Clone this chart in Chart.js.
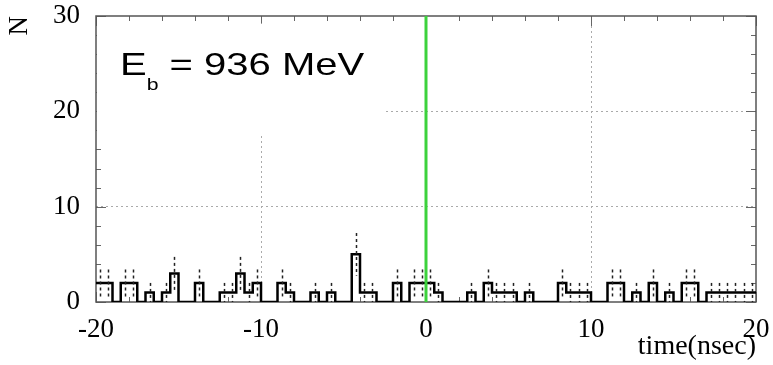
<!DOCTYPE html>
<html>
<head>
<meta charset="utf-8">
<script src="https://cdn.jsdelivr.net/npm/chart.js@4"></script>
<style>
    body { margin: 0; background: #fff; }
    canvas { display: block; }
</style>
</head>
<body>
<canvas id="timeChart" width="773" height="365"></canvas>
<script>
// ヒストグラムのデータ (0.5 nsec 幅, -20 〜 20 nsec)
const binLow = -20;
const binWidth = 0.5;
const counts = [
    2, 2, 0, 2, 2, 0, 1, 0, 1, 3,
    0, 0, 2, 0, 0, 1, 1, 3, 1, 2,
    0, 0, 2, 1, 0, 0, 1, 0, 1, 0,
    0, 5, 1, 1, 0, 0, 2, 0, 2, 2,
    2, 1, 0, 0, 0, 1, 0, 2, 1, 1,
    1, 0, 1, 0, 0, 0, 2, 1, 1, 1,
    0, 0, 2, 2, 0, 1, 0, 2, 0, 1,
    0, 2, 2, 0, 1, 1, 1, 1, 1, 1
];

// 軸の目盛り
const xTicks = [-20, -10, 0, 10, 20];
const yTicks = [0, 10, 20, 30];
const xGrid = [-10, 10];
const yGrid = [10, 20];
const markerTime = 0;

// 表示テキスト
const xTitle = 'time(nsec)';
const yTitle = 'N';
const beamLabel = ['E', 'b', ' = 936 MeV'];

// ラベルの白い箱 (データ座標)
const labelBox = { xMin: -20, xMax: -2.55, yMin: 17.5, yMax: 29.2 };

// ステップ表示用の点
function getStepPoints() {
    const points = counts.map((n, i) => ({ x: binLow + i * binWidth, y: n }));
    points.push({ x: binLow + counts.length * binWidth, y: counts[counts.length - 1] });
    return points;
}

// 枠・目盛り・ラベル
const framePlugin = {
    id: 'frame',
    beforeDatasetsDraw(chart) {
        const { ctx, chartArea: a, scales: { x, y } } = chart;
        ctx.save();

        // 内向きの目盛り (2 単位ごと)
        ctx.strokeStyle = '#666';
        ctx.lineWidth = 1;
        for (let v = -20; v <= 20; v += 2) {
            const px = Math.round(x.getPixelForValue(v)) + 0.5;
            const len = v % 10 === 0 ? 10 : 5;
            ctx.beginPath();
            ctx.moveTo(px, a.bottom); ctx.lineTo(px, a.bottom - len);
            ctx.moveTo(px, a.top); ctx.lineTo(px, a.top + len);
            ctx.stroke();
        }
        for (let v = 0; v <= 30; v += 2) {
            const py = Math.round(y.getPixelForValue(v)) + 0.5;
            const len = v % 10 === 0 ? 10 : 5;
            ctx.beginPath();
            ctx.moveTo(a.left, py); ctx.lineTo(a.left + len, py);
            ctx.moveTo(a.right, py); ctx.lineTo(a.right - len, py);
            ctx.stroke();
        }

        // 枠線
        ctx.strokeStyle = '#555';
        ctx.lineWidth = 1.5;
        ctx.strokeRect(a.left, a.top, a.right - a.left, a.bottom - a.top);

        // ラベルの箱
        const bx0 = x.getPixelForValue(labelBox.xMin) + 1;
        const bx1 = x.getPixelForValue(labelBox.xMax);
        const by0 = y.getPixelForValue(labelBox.yMax);
        const by1 = y.getPixelForValue(labelBox.yMin);
        ctx.fillStyle = '#fff';
        ctx.fillRect(bx0, by0, bx1 - bx0, by1 - by0);

        // E_b = 936 MeV
        ctx.fillStyle = '#000';
        ctx.textBaseline = 'alphabetic';
        ctx.translate(bx0 + 23, a.top + 59);
        ctx.scale(1.25, 1);
        ctx.font = '32px "Liberation Sans"';
        ctx.fillText(beamLabel[0], 0, 0);
        let cx = ctx.measureText(beamLabel[0]).width;
        ctx.font = '17px "Liberation Sans"';
        ctx.fillText(beamLabel[1], cx, 15);
        cx += ctx.measureText(beamLabel[1]).width;
        ctx.font = '32px "Liberation Sans"';
        ctx.fillText(beamLabel[2], cx, 0);
        ctx.restore();
    }
};

// 誤差棒 (点線)
const errorBarPlugin = {
    id: 'errorBars',
    afterDatasetsDraw(chart) {
        const { ctx, scales: { x, y } } = chart;
        ctx.save();
        ctx.strokeStyle = '#222';
        ctx.lineWidth = 1.5;
        ctx.setLineDash([3, 3]);
        counts.forEach((n, i) => {
            if (n === 0) return;
            const err = Math.sqrt(n);
            const px = Math.round(x.getPixelForValue(binLow + (i + 0.5) * binWidth)) + 0.5;
            ctx.beginPath();
            ctx.moveTo(px, y.getPixelForValue(n + err));
            ctx.lineTo(px, y.getPixelForValue(n - err));
            ctx.stroke();
        });
        ctx.restore();
    }
};

const tickFont = { family: 'Liberation Serif', size: 27 };

function gridColor(list) {
    return c => (c.tick && list.includes(c.tick.value)) ? '#aaa' : 'rgba(0,0,0,0)';
}

// グラフの作成
function createChart() {
    const ctx = document.getElementById('timeChart').getContext('2d');
    new Chart(ctx, {
        type: 'line',
        data: {
            datasets: [
                {
                    data: [{ x: markerTime, y: yTicks[0] }, { x: markerTime, y: yTicks[yTicks.length - 1] }],
                    borderColor: 'rgb(60, 210, 60)',
                    borderWidth: 3,
                    pointRadius: 0,
                    order: 0
                },
                {
                    data: getStepPoints(),
                    stepped: 'before',
                    borderColor: '#000',
                    borderWidth: 2.5,
                    pointRadius: 0,
                    order: 1
                }
            ]
        },
        options: {
            responsive: false,
            animation: false,
            events: [],
            layout: { padding: { top: 16, right: 17, left: 0, bottom: 0 } },
            plugins: { legend: { display: false }, tooltip: { enabled: false } },
            scales: {
                x: {
                    type: 'linear',
                    min: xTicks[0],
                    max: xTicks[xTicks.length - 1],
                    afterBuildTicks: s => { s.ticks = xTicks.map(v => ({ value: v })); },
                    afterFit: s => { s.height = 63; s.paddingLeft = 0; s.paddingRight = 0; },
                    ticks: { font: tickFont, color: '#000', padding: 12, maxRotation: 0, autoSkip: false },
                    grid: { color: gridColor(xGrid), drawTicks: false, lineWidth: 1 },
                    border: { display: false, dash: [2, 3] },
                    title: {
                        display: true, text: xTitle, align: 'end', color: '#000',
                        font: { family: 'Liberation Serif', size: 28 },
                        padding: { top: 0, bottom: 2 }
                    }
                },
                y: {
                    min: yTicks[0],
                    max: yTicks[yTicks.length - 1],
                    afterBuildTicks: s => { s.ticks = yTicks.map(v => ({ value: v })); },
                    afterFit: s => { s.width = 96; s.paddingTop = 0; s.paddingBottom = 0; },
                    ticks: { font: tickFont, color: '#000', padding: 16 },
                    grid: { color: gridColor(yGrid), drawTicks: false, lineWidth: 1 },
                    border: { display: false, dash: [2, 3] },
                    title: {
                        display: true, text: yTitle, align: 'end', color: '#000',
                        font: tickFont,
                        padding: { top: 4, bottom: 0 }
                    }
                }
            }
        },
        plugins: [framePlugin, errorBarPlugin]
    });
}

document.addEventListener('DOMContentLoaded', createChart);
</script>
</body>
</html>
